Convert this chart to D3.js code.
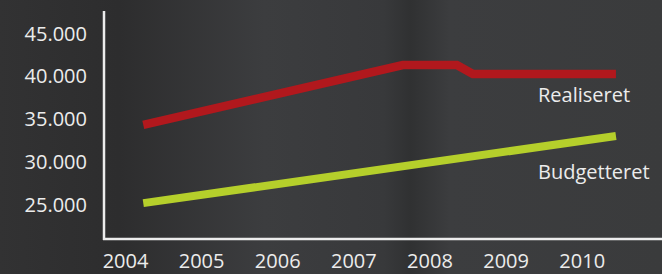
<!DOCTYPE html>
<html>
<head>
<meta charset="utf-8">
<script src="https://cdn.jsdelivr.net/npm/d3@7"></script>
<style>
  html, body { margin: 0; padding: 0; background: #38393a; }
  svg { display: block; }
</style>
</head>
<body>
<div id="chart"></div>
<script>
// tick labels
var years = [2004, 2005, 2006, 2007, 2008, 2009, 2010];
var yTicks = [25000, 30000, 35000, 40000, 45000];

// series (x as fractional year)
var realiseretX = [2004.24, 2007.65, 2008.36, 2008.57, 2010.45];
var realiseretY = [34250, 41250, 41250, 40200, 40200];
var budgetteretX = [2004.24, 2010.45];
var budgetteretY = [25100, 32950];

var width = 662, height = 274;

var svg = d3.select('#chart')
  .append('svg')
  .attr('width', width)
  .attr('height', height);

// background - dark textured photo, approximated with gradients
var defs = svg.append('defs');
var bg = defs.append('linearGradient').attr('id', 'bg').attr('x1', 0).attr('x2', 1).attr('y1', 0).attr('y2', 0);
bg.append('stop').attr('offset', '0%').attr('stop-color', '#323233');
bg.append('stop').attr('offset', '18%').attr('stop-color', '#2d2d2e');
bg.append('stop').attr('offset', '40%').attr('stop-color', '#3c3d3f');
bg.append('stop').attr('offset', '58%').attr('stop-color', '#38393b');
bg.append('stop').attr('offset', '62%').attr('stop-color', '#303132');
bg.append('stop').attr('offset', '68%').attr('stop-color', '#3c3d3f');
bg.append('stop').attr('offset', '100%').attr('stop-color', '#3a3b3c');
svg.append('rect').attr('width', width).attr('height', height).attr('fill', 'url(#bg)');

var x = d3.scaleLinear().domain([2004, 2010]).range([125, 581.7]);
var y = d3.scaleLinear().domain([25000, 45000]).range([204, 33]);

var axisColor = '#ececec';
var font = '"Open Sans", sans-serif';

// y tick labels
var yAxis = svg.append('g')
  .attr('transform', 'translate(104,0)')
  .call(d3.axisLeft(y).tickValues(yTicks).tickSize(0).tickPadding(17)
    .tickFormat(function (d) { return d3.format(',')(d).replace(',', '.'); }));
yAxis.select('.domain').remove();
yAxis.selectAll('.tick text').attr('dy', '0.36em');

// x tick labels
var xAxis = svg.append('g')
  .attr('transform', 'translate(0,239)')
  .call(d3.axisBottom(x).tickValues(years).tickSize(0).tickPadding(15).tickFormat(d3.format('d')));
xAxis.select('.domain').remove();

svg.selectAll('.tick text')
  .attr('fill', axisColor)
  .style('font-family', font)
  .style('font-size', '20px');

// axis lines
svg.append('line')
  .attr('x1', 104).attr('x2', 104).attr('y1', 11).attr('y2', 240)
  .attr('stroke', axisColor).attr('stroke-width', 2.5);
svg.append('line')
  .attr('x1', 103).attr('x2', width).attr('y1', 239).attr('y2', 239)
  .attr('stroke', axisColor).attr('stroke-width', 2.5);

var line = d3.line()
  .x(function (d) { return x(d[0]); })
  .y(function (d) { return y(d[1]); });

svg.append('path')
  .datum(d3.zip(budgetteretX, budgetteretY))
  .attr('d', line)
  .attr('fill', 'none')
  .attr('stroke', '#b5cf2b')
  .attr('stroke-width', 8);

svg.append('path')
  .datum(d3.zip(realiseretX, realiseretY))
  .attr('d', line)
  .attr('fill', 'none')
  .attr('stroke', '#b1181d')
  .attr('stroke-width', 8.5);

// series labels
svg.append('text')
  .attr('x', 538).attr('y', 101.5)
  .attr('fill', axisColor)
  .style('font-family', font).style('font-size', '20px')
  .text('Realiseret');
svg.append('text')
  .attr('x', 538).attr('y', 179)
  .attr('fill', axisColor)
  .style('font-family', font).style('font-size', '20px')
  .text('Budgetteret');
</script>
</body>
</html>
